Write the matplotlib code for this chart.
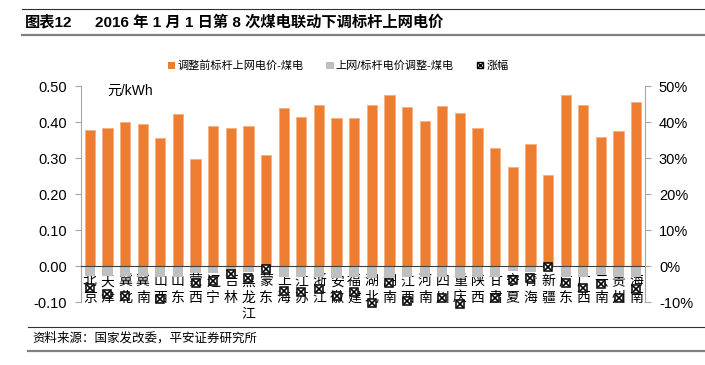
import numpy as np
import matplotlib
matplotlib.use("Agg")
import matplotlib.pyplot as plt
from matplotlib.lines import Line2D
from matplotlib.patches import Patch

plt.rcParams['font.family'] = ['Liberation Sans', 'Noto Sans CJK SC', 'DejaVu Sans']

# 数据
provinces = ['北京', '天津', '冀北', '冀南', '山西', '山东', '蒙西', '辽宁', '吉林', '黑龙江',
             '蒙东', '上海', '江苏', '浙江', '安徽', '福建', '湖北', '湖南', '江西', '河南',
             '四川', '重庆', '陕西', '甘肃', '宁夏', '青海', '新疆', '广东', '广西', '云南',
             '贵州', '海南']
price_before = [0.378, 0.384, 0.400, 0.394, 0.356, 0.423, 0.297, 0.390, 0.383, 0.390,
                0.309, 0.439, 0.413, 0.448, 0.410, 0.411, 0.446, 0.475, 0.443, 0.402,
                0.444, 0.424, 0.382, 0.328, 0.274, 0.340, 0.252, 0.476, 0.446, 0.359,
                0.374, 0.456]
adjust = [-0.028, -0.028, -0.028, -0.028, -0.031, -0.031, -0.020, -0.019, -0.028, -0.018,
          -0.010, -0.031, -0.030, -0.031, -0.032, -0.031, -0.032, -0.032, -0.031, -0.031,
          -0.031, -0.032, -0.030, -0.030, -0.015, -0.018, -0.005, -0.030, -0.031, -0.024,
          -0.031, -0.031]
change_pct = [-6.0, -7.9, -8.3, np.nan, -9.3, np.nan, -4.6, -4.2, -2.3, -3.4,
              -0.9, -6.9, -7.1, -6.5, -8.3, -7.1, -10.2, -4.6, -9.7, np.nan,
              -8.8, -10.6, np.nan, -8.8, -4.0, -3.2, -0.3, -4.6, -6.0, -5.1,
              -8.8, -6.5]

orange = '#ED7D31'
gris = '#BFBFBF'
eje = '#A6A6A6'

fig = plt.figure(figsize=(7.05, 3.65), dpi=100)
ax = fig.add_axes([81/705, 1 - 302/365, 564/705, 216/365])

x = np.arange(len(provinces))
ax.bar(x, price_before, width=0.58, color=orange, edgecolor='#F4B183', linewidth=0.6, zorder=2)
ax.bar(x, adjust, width=0.58, color=gris, zorder=2)

ax.set_xlim(-0.5, len(provinces) - 0.5)
ax.set_ylim(-0.1, 0.5)
ax.set_yticks(np.arange(-0.1, 0.51, 0.1))
ax.yaxis.set_major_formatter(lambda v, p: f'{v:.2f}')
ax.tick_params(axis='y', labelsize=10.5, length=4, color=eje, pad=6)

ax.set_xticks(x)
ax.set_xticklabels(['\n'.join(p) for p in provinces], fontsize=9, linespacing=0.95)
ax.tick_params(axis='x', length=0, pad=6)

ax.spines['bottom'].set_position(('data', 0))
ax.spines['bottom'].set_color('#404040')
ax.spines['left'].set_color(eje)
ax.spines['top'].set_visible(False)
ax.spines['right'].set_visible(False)

ax.text(0.046, 0.98, '元/kWh', transform=ax.transAxes, fontsize=10, va='center', ha='left')

# 涨幅（右轴）
ax2 = ax.twinx()
ax2.set_ylim(-10, 50)
ax2.set_yticks(np.arange(-10, 51, 10))
ax2.yaxis.set_major_formatter(lambda v, p: f'{v:.0f}%')
ax2.tick_params(axis='y', labelsize=10.5, length=4, color=eje, pad=6)
for s in ['left', 'top', 'bottom']:
    ax2.spines[s].set_visible(False)
ax2.spines['right'].set_color(eje)
ax2.plot(x, change_pct, linestyle='none', marker='s', ms=5.2, mfc='white', mec='black',
         mew=1.1, clip_on=False, zorder=5)
ax2.plot(x, change_pct, linestyle='none', marker='x', ms=4, color='black',
         mew=1.2, clip_on=False, zorder=6)

# 图例
h1 = Patch(facecolor=orange)
h2 = Patch(facecolor=gris)
h3 = (Line2D([], [], linestyle='none', marker='s', ms=5, mfc='white', mec='black', mew=1),
      Line2D([], [], linestyle='none', marker='x', ms=3.8, color='black', mew=1))
fig.legend([h1, h2, h3], ['调整前标杆上网电价-煤电', '上网/标杆电价调整-煤电', '涨幅'],
           loc='center', bbox_to_anchor=(338/705, 1 - 66/365), ncol=3, frameon=False,
           fontsize=8, handlelength=0.7, handleheight=0.7, handletextpad=0.2,
           columnspacing=2.0)

# 标题与来源
fig.add_artist(Line2D([22/705, 1], [1 - 9/365] * 2, color='#303030', lw=0.8))
fig.text(25/705, 1 - 22/365, '图表12', fontsize=11, fontweight='bold', va='center')
fig.text(95/705, 1 - 22/365, '2016 年 1 月 1 日第 8 次煤电联动下调标杆上网电价',
         fontsize=11, fontweight='bold', va='center')
fig.add_artist(Line2D([22/705, 1], [1 - 35/365] * 2, color='#808080', lw=1.6))
fig.add_artist(Line2D([28/705, 1], [1 - 327/365] * 2, color='#303030', lw=0.8))
fig.text(32/705, 1 - 338/365, '资料来源：国家发改委，平安证券研究所', fontsize=9,
         va='center', style='italic')
fig.add_artist(Line2D([28/705, 1], [1 - 351/365] * 2, color='#808080', lw=1.6))

fig.savefig('out.png', dpi=100)
